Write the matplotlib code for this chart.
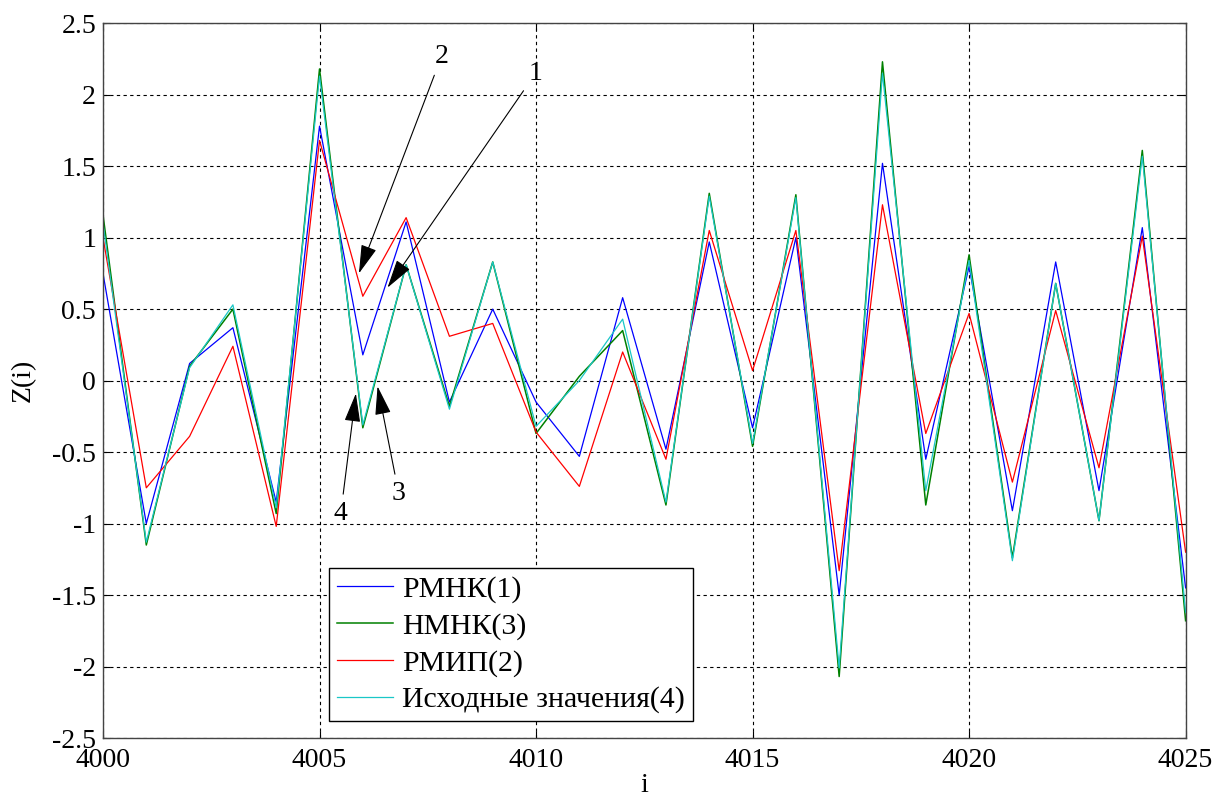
import numpy as np
import matplotlib
matplotlib.use('Agg')
import matplotlib.pyplot as plt

# Data
i_values = np.arange(4000, 4026)

z_rmnk = [0.75, -1.0, 0.12, 0.37, -0.85, 1.78, 0.18, 1.11, -0.15, 0.50, -0.15, -0.53, 0.58,
          -0.48, 0.97, -0.33, 1.00, -1.50, 1.52, -0.55, 0.80, -0.91, 0.83, -0.77, 1.07, -1.45]
z_nmnk = [1.16, -1.15, 0.10, 0.50, -0.93, 2.18, -0.33, 0.81, -0.18, 0.83, -0.37, 0.03, 0.35,
          -0.87, 1.31, -0.46, 1.30, -2.07, 2.23, -0.87, 0.88, -1.24, 0.68, -0.98, 1.61, -1.68]
z_rmip = [1.00, -0.75, -0.39, 0.24, -1.02, 1.68, 0.59, 1.14, 0.31, 0.40, -0.36, -0.74, 0.20,
          -0.55, 1.05, 0.07, 1.05, -1.33, 1.23, -0.37, 0.47, -0.71, 0.49, -0.61, 1.01, -1.20]
z_source = [1.10, -1.13, 0.09, 0.53, -0.89, 2.13, -0.31, 0.81, -0.20, 0.83, -0.32, 0.00, 0.43,
            -0.85, 1.29, -0.44, 1.28, -2.01, 2.15, -0.77, 0.84, -1.26, 0.68, -0.98, 1.57, -1.62]

series_labels = ['РМНК(1)', 'НМНК(3)', 'РМИП(2)', 'Исходные значения(4)']
x_ticks = [4000, 4005, 4010, 4015, 4020, 4025]
y_ticks = [-2.5, -2, -1.5, -1, -0.5, 0, 0.5, 1, 1.5, 2, 2.5]
y_tick_labels = ['-2.5', '-2', '-1.5', '-1', '-0.5', '0', '0.5', '1', '1.5', '2', '2.5']

serif = 'Liberation Serif'

# Figure
fig = plt.figure(figsize=(12.16, 8), dpi=100)
ax = fig.add_axes([0.0847, 0.0775, 0.8903, 0.8935])

ax.plot(i_values, z_rmnk, color=(0, 0, 1), lw=0.9, label=series_labels[0])
ax.plot(i_values, z_nmnk, color=(0, 0.5, 0), lw=1.1, label=series_labels[1])
ax.plot(i_values, z_rmip, color=(1, 0, 0), lw=0.9, label=series_labels[2])
ax.plot(i_values, z_source, color=(0.1, 0.78, 0.78), lw=0.9, label=series_labels[3])

ax.set_xlim(4000, 4025)
ax.set_ylim(-2.5, 2.5)
ax.set_xticks(x_ticks)
ax.set_yticks(y_ticks)
ax.set_yticklabels(y_tick_labels)
ax.grid(True, color='k', linestyle=(0, (3, 3)), linewidth=0.8)
ax.tick_params(direction='in', top=True, right=True, length=5, labelsize=20)
ax.tick_params(axis='x', pad=7)
ax.tick_params(axis='y', pad=5)
for lab in ax.get_xticklabels() + ax.get_yticklabels():
    lab.set_family(serif)
for sp in ax.spines.values():
    sp.set_color('#444444')
    sp.set_linewidth(1.0)

ax.set_xlabel('i', family=serif, fontsize=20, labelpad=0)
ax.set_ylabel('Z(i)', family=serif, fontsize=20, labelpad=12)

# Legend
leg = ax.legend(loc='lower left', bbox_to_anchor=(0.209, 0.024), prop={'family': serif, 'size': 21.5},
                fancybox=False, framealpha=1, edgecolor='k', borderaxespad=0, handlelength=1.9,
                handletextpad=0.3, labelspacing=0.32, borderpad=0.25)
leg.get_frame().set_linewidth(1.0)

# Curve number annotations
arrow_kw = dict(arrowstyle='-|>,head_length=0.9,head_width=0.25', color='k', lw=0.8,
                shrinkA=3, shrinkB=0)
ax.annotate('2', xy=(4005.91, 0.75), xytext=(4007.82, 2.27), fontsize=20, family=serif,
            ha='center', va='center', arrowprops=arrow_kw)
ax.annotate('1', xy=(4006.57, 0.65), xytext=(4009.99, 2.15), fontsize=20, family=serif,
            ha='center', va='center', arrowprops=arrow_kw)
ax.annotate('4', xy=(4005.84, -0.09), xytext=(4005.49, -0.93), fontsize=20, family=serif,
            ha='center', va='center', arrowprops=arrow_kw)
ax.annotate('3', xy=(4006.34, -0.04), xytext=(4006.83, -0.79), fontsize=20, family=serif,
            ha='center', va='center', arrowprops=arrow_kw)

fig.savefig('out.png', dpi=100)
